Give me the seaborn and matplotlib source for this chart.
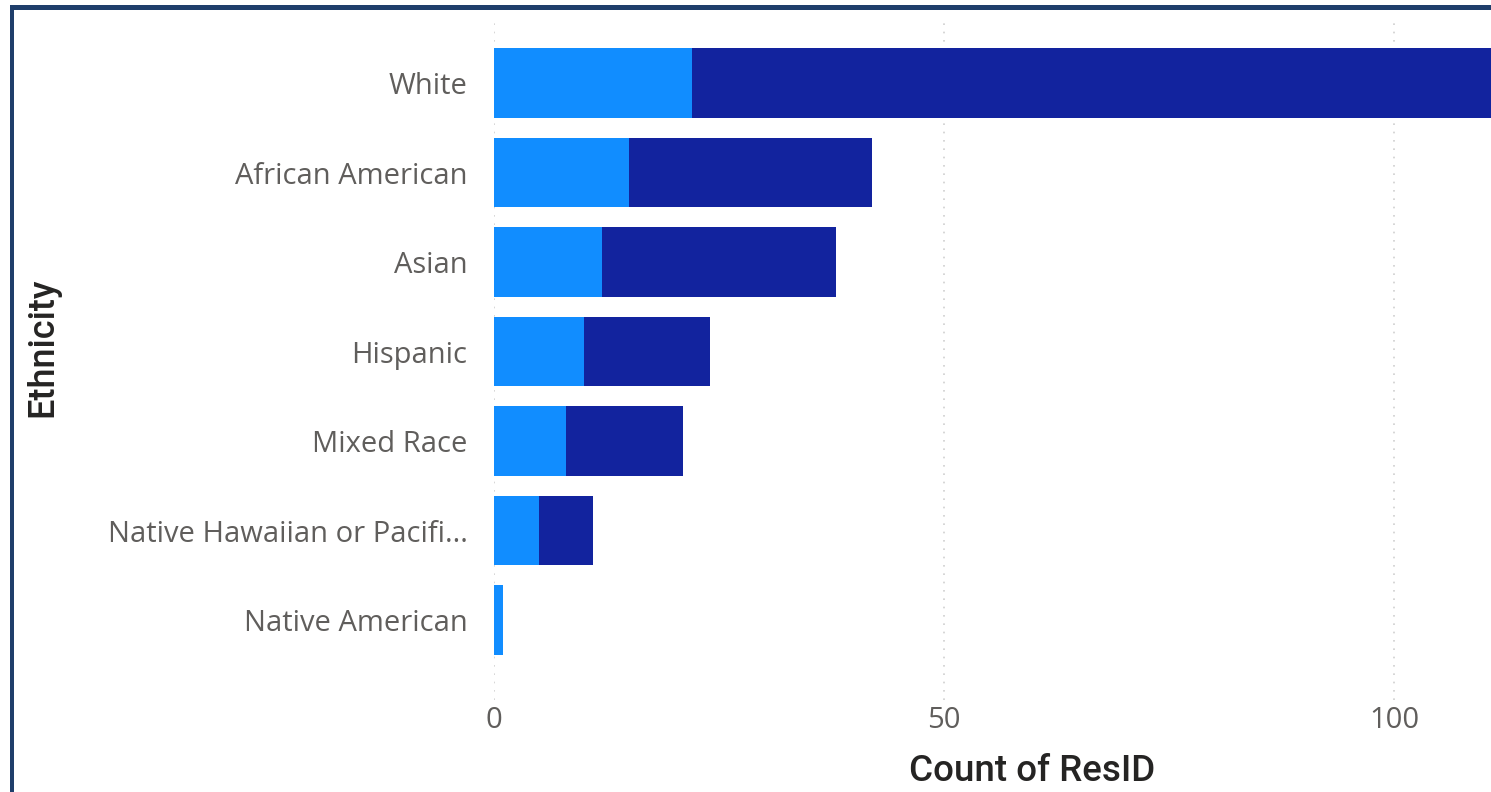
import matplotlib
matplotlib.use("Agg")
import matplotlib.pyplot as plt
import seaborn as sns
import pandas as pd
from matplotlib.patches import Rectangle

categories = ["White", "African American", "Asian", "Hispanic", "Mixed Race",
              "Native Hawaiian or Pacifi...", "Native American"]
light_values = [22, 15, 12, 10, 8, 5, 1]
dark_values = [89, 27, 26, 14, 13, 6, 0]
x_ticks = [0, 50, 100]

totals = [a + b for a, b in zip(light_values, dark_values)]
df = pd.DataFrame({"Ethnicity": categories, "light": light_values, "total": totals})

sns.set_theme(style="white")
plt.rcParams["font.family"] = ["Open Sans", "DejaVu Sans"]

W, H = 1491, 792
top_px, bot_px = 20, 700
fig = plt.figure(figsize=(W / 100, H / 100), dpi=100)
ax = fig.add_axes([494 / W, 1 - bot_px / H, (W - 494) / W, (bot_px - top_px) / H])

sns.barplot(data=df, y="Ethnicity", x="total", orient="h", color="#12239E",
            width=0.78, saturation=1, linewidth=0, ax=ax, order=categories)
sns.barplot(data=df, y="Ethnicity", x="light", orient="h", color="#118DFF",
            width=0.78, saturation=1, linewidth=0, ax=ax, order=categories)

# category spacing ~89.5 px, first category centred at y=83 px
step = 89.5
lo = -(83 - top_px) / step
hi = lo + (bot_px - top_px) / step
ax.set_ylim(hi, lo)

ax.set_xlim(0, (W - 494) / 9)
ax.set_xticks(x_ticks)
ax.set_xticklabels([str(t) for t in x_ticks])
ax.grid(axis="x", color="#D0D0D0", linestyle=(0, (1, 4)), linewidth=1.2)
ax.set_axisbelow(True)
for s in ax.spines.values():
    s.set_visible(False)
ax.tick_params(axis="both", length=0, labelsize=21, colors="#605E5C")
ax.tick_params(axis="y", pad=19)
ax.tick_params(axis="x", pad=4)

ax.set_xlabel("Count of ResID", fontsize=26.5, color="#252423", family=["Roboto", "DejaVu Sans"],
              fontweight="medium")
ax.xaxis.set_label_coords((1032 - 494) / (W - 494), -(754 - bot_px) / (bot_px - top_px))
ax.set_ylabel("Ethnicity", fontsize=26, color="#252423", family=["Roboto", "DejaVu Sans"],
              fontweight="medium")
ax.yaxis.set_label_coords(-(494 - 60) / (W - 494), (bot_px - 347) / (bot_px - top_px))

# frame border (top and left)
border = "#1F3E6B"
fig.patches.append(Rectangle((10 / W, 1 - 10 / H), 1, 5 / H, transform=fig.transFigure,
                             facecolor=border, edgecolor="none"))
fig.patches.append(Rectangle((10 / W, 0), 4 / W, 1 - 5 / H, transform=fig.transFigure,
                             facecolor=border, edgecolor="none"))

fig.savefig("out.png", dpi=100)
